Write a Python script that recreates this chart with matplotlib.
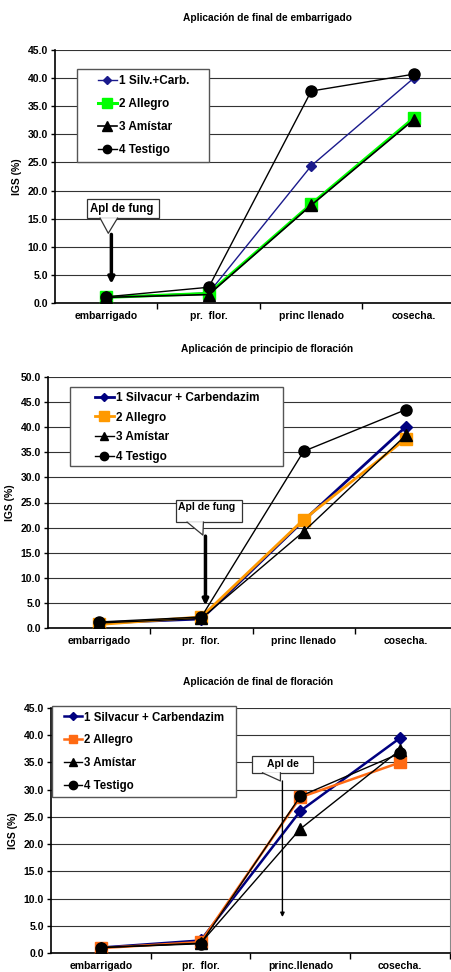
import matplotlib.pyplot as plt
from matplotlib.patches import Polygon, Rectangle
import numpy as np

plt.rcParams['font.family'] = ['Liberation Sans', 'DejaVu Sans']
plt.rcParams['font.weight'] = 'bold'

# datos: IGS (%) por estado
cats1 = ["embarrigado", "pr.  flor.", "princ llenado", "cosecha."]
cats3 = ["embarrigado", "pr.  flor.", "princ.llenado", "cosecha."]

# Aplicación de final de embarrigado
p1_silv = [1.0, 1.8, 24.4, 40.0]
p1_alle = [1.0, 1.7, 17.6, 32.9]
p1_amis = [1.0, 1.5, 17.4, 32.6]
p1_test = [1.1, 2.8, 37.7, 40.7]

# Aplicación de principio de floración
p2_silv = [1.0, 1.8, 21.4, 40.1]
p2_alle = [0.7, 2.2, 21.6, 37.7]
p2_amis = [1.0, 1.9, 19.2, 38.4]
p2_test = [1.2, 2.2, 35.2, 43.5]

# Aplicación de final de floración
p3_silv = [1.0, 2.3, 26.1, 39.5]
p3_alle = [0.9, 2.0, 28.6, 35.0]
p3_amis = [1.0, 1.8, 22.8, 37.3]
p3_test = [1.0, 1.7, 28.8, 36.7]

fig = plt.figure(figsize=(4.52, 9.72), dpi=100)


def panel(pos, title, cats, series, labels, styles, ymax, leg, ann):
    ax = fig.add_axes(pos)
    x = np.arange(len(cats))
    for y, lab, st in zip(series, labels, styles):
        ax.plot(x, y, label=lab, **st)
    ax.set_xlim(-0.5, 3.5)
    ax.set_ylim(0, ymax)
    yt = np.arange(0, ymax + 0.1, 5)
    ax.set_yticks(yt)
    ax.set_yticklabels(["%.1f" % v for v in yt])
    ax.set_xticks(x)
    ax.set_xticklabels(cats)
    ax.set_xticks(np.arange(0.5, 4, 1), minor=True)
    ax.tick_params(axis='x', which='major', length=0, pad=6, labelsize=7.5)
    ax.tick_params(axis='x', which='minor', length=4, direction='out', width=1)
    ax.tick_params(axis='y', length=3, width=1, labelsize=7.5, pad=2)
    ax.grid(axis='y', color='#333333', lw=0.8)
    ax.set_axisbelow(True)
    ax.spines['top'].set_visible(False)
    ax.spines['right'].set_color('#888888')
    ax.spines['left'].set_linewidth(1.2)
    ax.spines['bottom'].set_linewidth(1.2)
    ax.set_ylabel("IGS (%)", fontsize=7.5, fontweight='bold', labelpad=leg['lpad'])
    ax.set_title(title, fontsize=7.3, fontweight='bold', pad=leg['tpad'], x=leg['tx'])

    # leyenda con recuadro propio
    x0, y0, x1, y1 = leg['box']
    ax.add_patch(Rectangle((x0, y0), x1 - x0, y1 - y0, transform=ax.transAxes,
                           fc='white', ec='#555555', lw=1.0, zorder=9, clip_on=False))
    lg = ax.legend(loc='center left', bbox_to_anchor=leg['anchor'], fontsize=leg['fs'],
                   frameon=False, handlelength=1.6, handletextpad=0.15,
                   labelspacing=leg['ls'], borderpad=0, borderaxespad=0,
                   markerscale=0.75)
    lg.set_zorder(10)

    # llamada "Apl de fung"
    bx0, bx1, by0, by1 = ann['box']
    tip = ann['tip']
    b0, b1 = ann['base']
    ax.add_patch(Polygon([[bx0, by0], [bx1, by0], [bx1, by1], [bx0, by1]],
                         closed=True, fc='white', ec='#333333', lw=0.9, zorder=5))
    ax.add_patch(Polygon([[b0, by0], tip, [b1, by0]], closed=True, fc='white',
                         ec='none', zorder=6))
    ax.plot([b0, tip[0], b1], [by0, tip[1], by0], color='#333333', lw=0.9, zorder=7)
    ax.text(ann['tpos'][0], ann['tpos'][1], ann['text'], fontsize=ann['fs'],
            ha=ann['ha'], va='center', zorder=8)
    ax.annotate("", xy=ann['a1'], xytext=ann['a0'], zorder=8,
                arrowprops=dict(arrowstyle="-|>", color='black', lw=ann['lw'],
                                mutation_scale=ann['ms'], shrinkA=0, shrinkB=0))
    return ax


labels1 = ["1 Silv.+Carb.", "2 Allegro", "3 Amístar", "4 Testigo"]
labels2 = ["1 Silvacur + Carbendazim", "2 Allegro", "3 Amístar", "4 Testigo"]

st1 = [dict(color='#1a1a8c', lw=1.0, marker='D', ms=5, zorder=3),
       dict(color='#00ff00', lw=2.2, marker='s', ms=9, zorder=3),
       dict(color='black', lw=1.2, marker='^', ms=9, zorder=3),
       dict(color='black', lw=1.0, marker='o', ms=8, zorder=3)]
st2 = [dict(color='#000080', lw=2.0, marker='D', ms=6, zorder=3),
       dict(color='#ff9900', lw=2.0, marker='s', ms=9, zorder=3),
       dict(color='black', lw=1.0, marker='^', ms=8, zorder=3),
       dict(color='black', lw=1.0, marker='o', ms=8, zorder=3)]
st3 = [dict(color='#000080', lw=1.8, marker='D', ms=6, zorder=3),
       dict(color='#ff6a13', lw=1.8, marker='s', ms=8, zorder=3),
       dict(color='black', lw=1.0, marker='^', ms=8, zorder=3),
       dict(color='black', lw=1.0, marker='o', ms=8, zorder=3)]

panel([55 / 452, 669 / 972, 410 / 452, 253 / 972], "Aplicación de final de embarrigado",
      cats1, [p1_silv, p1_alle, p1_amis, p1_test], labels1, st1, 45,
      dict(box=(0.0537, 0.557, 0.3756, 0.925), anchor=(0.105, 0.741), fs=8.5,
           ls=0.93, lpad=4, tpad=21, tx=0.517),
      dict(box=(-0.19, 0.515, 15.1, 18.5), tip=(0.02, 12.4), base=(-0.06, 0.11),
           tpos=(-0.16, 16.8), text="Apl de fung", fs=8.3, ha='left',
           a0=(0.05, 12.2), a1=(0.05, 3.4), lw=2.5, ms=9))

panel([48 / 452, 344 / 972, 409 / 452, 251 / 972], "Aplicación de principio de floración",
      cats1, [p2_silv, p2_alle, p2_amis, p2_test], labels2, st2, 50,
      dict(box=(0.0538, 0.6454, 0.5746, 0.960), anchor=(0.115, 0.799), fs=8.5,
           ls=0.65, lpad=4, tpad=18, tx=0.535),
      dict(box=(0.75, 1.40, 21.1, 25.5), tip=(1.015, 18.5), base=(0.86, 1.02),
           tpos=(0.77, 24.2), text="Apl de fung", fs=7.5, ha='left',
           a0=(1.04, 18.3), a1=(1.04, 4.5), lw=2.5, ms=8))

panel([51 / 452, 19 / 972, 399 / 452, 245 / 972], "Aplicación de final de floración",
      cats3, [p3_silv, p3_alle, p3_amis, p3_test], labels2, st3, 45,
      dict(box=(0.0025, 0.6367, 0.4637, 1.008), anchor=(0.0326, 0.822), fs=8.3,
           ls=0.93, lpad=4, tpad=16.5, tx=0.52),
      dict(box=(1.52, 2.13, 33.1, 36.2), tip=(1.80, 31.6), base=(1.62, 1.80),
           tpos=(1.825, 34.8), text="Apl de", fs=7.5, ha='center',
           a0=(1.82, 31.6), a1=(1.82, 6.6), lw=1.0, ms=6))

fig.savefig("out.png", dpi=100)
